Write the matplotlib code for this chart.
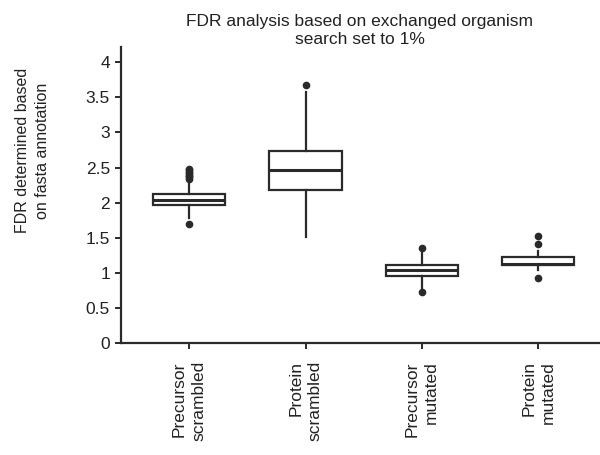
import matplotlib
matplotlib.use("Agg")
import matplotlib.pyplot as plt

plt.rcParams['font.family'] = ['Liberation Sans', 'DejaVu Sans']

# groups and box statistics
labels = ["Precursor\nscrambled", "Protein\nscrambled",
          "Precursor\nmutated", "Protein\nmutated"]
q1 = [1.96, 2.18, 0.96, 1.11]
med = [2.04, 2.46, 1.035, 1.13]
q3 = [2.12, 2.74, 1.11, 1.225]
whislo = [1.78, 1.51, 0.78, 1.04]
whishi = [2.31, 3.57, 1.30, 1.31]
fliers = [
    [1.70, 2.34, 2.36, 2.38, 2.40, 2.42, 2.44, 2.46, 2.48],
    [3.67],
    [0.73, 1.36],
    [0.93, 1.41, 1.52],
]

stats = []
for i in range(len(labels)):
    stats.append(dict(label=labels[i], q1=q1[i], med=med[i], q3=q3[i],
                      whislo=whislo[i], whishi=whishi[i], fliers=fliers[i]))

fig = plt.figure(figsize=(6, 4.55), dpi=100)
ax = fig.add_axes([0.202, 0.246, 0.796, 0.651])

edge = "#2a2a2a"
txt = "#222222"
ax.bxp(stats, positions=[1, 2, 3, 4], widths=0.62, patch_artist=True,
       showcaps=False,
       boxprops=dict(facecolor="white", edgecolor=edge, linewidth=1.6),
       medianprops=dict(color=edge, linewidth=2.2),
       whiskerprops=dict(color=edge, linewidth=1.6),
       flierprops=dict(marker="o", markerfacecolor=edge, markeredgecolor=edge,
                       markersize=4.5))

ax.set_xlim(0.416, 4.52)
ax.set_ylim(0, 4.22)
ax.set_yticks([0, 0.5, 1, 1.5, 2, 2.5, 3, 3.5, 4])
ax.set_yticklabels(["0", "0.5", "1", "1.5", "2", "2.5", "3", "3.5", "4"])
ax.set_xticklabels(labels, rotation=90, ha="center", va="top",
                   multialignment="right", fontsize=12.5, linespacing=1.35)

for s in ["top", "right"]:
    ax.spines[s].set_visible(False)
for s in ["left", "bottom"]:
    ax.spines[s].set_linewidth(1.6)
    ax.spines[s].set_color(edge)
ax.tick_params(direction="out", length=4, width=1.4, color=edge,
               labelsize=12.5, labelcolor=txt)
ax.tick_params(axis="y", pad=4)
ax.tick_params(axis="x", pad=9)

ax.set_title("FDR analysis based on exchanged organism\nsearch set to 1%",
             fontsize=12.5, color=txt, pad=2, linespacing=1.25)
ax.set_ylabel("FDR determined based\non fasta annotation", fontsize=11.5,
              color=txt, linespacing=1.4)
ax.yaxis.set_label_coords(-0.15, 0.65)

fig.savefig("out.png", dpi=100)
